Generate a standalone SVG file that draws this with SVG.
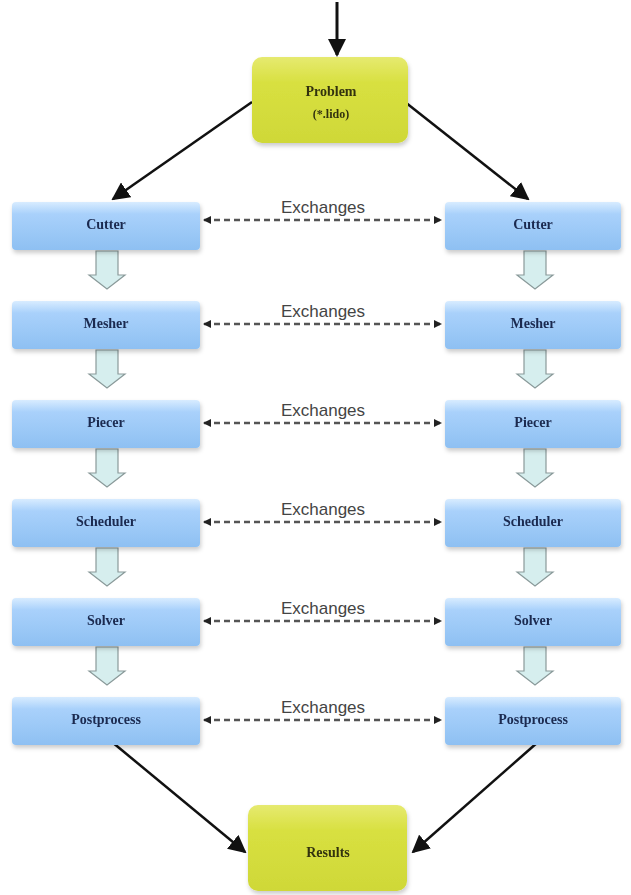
<svg xmlns="http://www.w3.org/2000/svg" width="631" height="895" viewBox="0 0 631 895">
<style>
.box{fill:url(#blue);}
.yel{fill:url(#yellow);}
.lbl{font-family:"Liberation Serif",serif;font-weight:bold;font-size:14px;fill:#1a2a50;text-anchor:middle;}
.ylbl{font-family:"Liberation Serif",serif;font-weight:bold;font-size:14px;fill:#333310;text-anchor:middle;}
.ex{font-family:"Liberation Sans",sans-serif;font-size:17px;fill:#444;text-anchor:middle;}
.dash{stroke:#555;stroke-width:2.5;stroke-dasharray:6,4;fill:none;marker-start:url(#sm);marker-end:url(#sm2);}
.solid{stroke:#111;stroke-width:2.5;fill:none;}
.blk{fill:#d6eeee;stroke:#8a9a9a;stroke-width:1.2;}
</style>
<defs>
<linearGradient id="blue" x1="0" y1="0" x2="0" y2="1">
<stop offset="0" stop-color="#d8ecff"/>
<stop offset="0.25" stop-color="#a9d1fb"/>
<stop offset="1" stop-color="#8ec0f2"/>
</linearGradient>
<linearGradient id="yellow" x1="0" y1="0" x2="0" y2="1">
<stop offset="0" stop-color="#e6ea70"/>
<stop offset="0.3" stop-color="#d8e040"/>
<stop offset="1" stop-color="#cfd838"/>
</linearGradient>
<filter id="sh" x="-10%" y="-10%" width="130%" height="140%">
<feDropShadow dx="1" dy="3" stdDeviation="2" flood-color="#000" flood-opacity="0.2"/>
</filter>
<marker id="bigv" markerWidth="18" markerHeight="18" refX="16" refY="9" orient="auto" markerUnits="userSpaceOnUse" viewBox="0 0 18 18">
<path d="M0,0 L18,9 L0,18 z" fill="#111"/>
</marker>
<marker id="sm" markerWidth="8" markerHeight="8" refX="1" refY="4" orient="auto" markerUnits="userSpaceOnUse" viewBox="0 0 8 8">
<path d="M8,0 L0,4 L8,8 z" fill="#222"/>
</marker>
<marker id="sm2" markerWidth="8" markerHeight="8" refX="7" refY="4" orient="auto" markerUnits="userSpaceOnUse" viewBox="0 0 8 8">
<path d="M0,0 L8,4 L0,8 z" fill="#222"/>
</marker>
<path id="blockarrow" d="M-11,0 H11 V24 H18 L0,38 L-18,24 H-11 Z"/>
</defs>
<rect width="631" height="895" fill="#fff"/>

<g id="connectors">
<line x1="337" y1="2" x2="337" y2="55" stroke="#111" stroke-width="3" marker-end="url(#bigv)"/>
<line class="solid" x1="252" y1="102" x2="113" y2="199" marker-end="url(#bigv)"/>
<line class="solid" x1="405" y1="102" x2="528" y2="199" marker-end="url(#bigv)"/>
<line class="solid" x1="112" y1="742" x2="245" y2="852" marker-end="url(#bigv)"/>
<line class="solid" x1="538" y1="742" x2="413" y2="852" marker-end="url(#bigv)"/>
<g class="blk">
<use href="#blockarrow" x="107" y="251"/>
<use href="#blockarrow" x="107" y="350"/>
<use href="#blockarrow" x="107" y="449"/>
<use href="#blockarrow" x="107" y="548"/>
<use href="#blockarrow" x="107" y="647"/>
<use href="#blockarrow" x="535" y="251"/>
<use href="#blockarrow" x="535" y="350"/>
<use href="#blockarrow" x="535" y="449"/>
<use href="#blockarrow" x="535" y="548"/>
<use href="#blockarrow" x="535" y="647"/>
</g>
<line class="dash" x1="204" y1="220" x2="441" y2="220"/>
<line class="dash" x1="204" y1="324" x2="441" y2="324"/>
<line class="dash" x1="204" y1="423" x2="441" y2="423"/>
<line class="dash" x1="204" y1="522" x2="441" y2="522"/>
<line class="dash" x1="204" y1="621" x2="441" y2="621"/>
<line class="dash" x1="204" y1="720" x2="441" y2="720"/>
<text class="ex" x="323" y="213">Exchanges</text>
<text class="ex" x="323" y="317">Exchanges</text>
<text class="ex" x="323" y="416">Exchanges</text>
<text class="ex" x="323" y="515">Exchanges</text>
<text class="ex" x="323" y="614">Exchanges</text>
<text class="ex" x="323" y="713">Exchanges</text>
</g>

<g id="problem" filter="url(#sh)"><rect class="yel" x="252" y="57" width="156" height="86" rx="10"/><text class="ylbl" x="331" y="96">Problem</text><text class="ylbl" x="331" y="118" style="font-size:12px">(*.lido)</text></g>

<g id="cutter-l" filter="url(#sh)"><rect class="box" x="12" y="202" width="188" height="48" rx="4"/><text class="lbl" x="106" y="229">Cutter</text></g>
<g id="mesher-l" filter="url(#sh)"><rect class="box" x="12" y="301" width="188" height="48" rx="4"/><text class="lbl" x="106" y="328">Mesher</text></g>
<g id="piecer-l" filter="url(#sh)"><rect class="box" x="12" y="400" width="188" height="48" rx="4"/><text class="lbl" x="106" y="427">Piecer</text></g>
<g id="scheduler-l" filter="url(#sh)"><rect class="box" x="12" y="499" width="188" height="48" rx="4"/><text class="lbl" x="106" y="526">Scheduler</text></g>
<g id="solver-l" filter="url(#sh)"><rect class="box" x="12" y="598" width="188" height="48" rx="4"/><text class="lbl" x="106" y="625">Solver</text></g>
<g id="postprocess-l" filter="url(#sh)"><rect class="box" x="12" y="697" width="188" height="48" rx="4"/><text class="lbl" x="106" y="724">Postprocess</text></g>

<g id="cutter-r" filter="url(#sh)"><rect class="box" x="445" y="202" width="176" height="48" rx="4"/><text class="lbl" x="533" y="229">Cutter</text></g>
<g id="mesher-r" filter="url(#sh)"><rect class="box" x="445" y="301" width="176" height="48" rx="4"/><text class="lbl" x="533" y="328">Mesher</text></g>
<g id="piecer-r" filter="url(#sh)"><rect class="box" x="445" y="400" width="176" height="48" rx="4"/><text class="lbl" x="533" y="427">Piecer</text></g>
<g id="scheduler-r" filter="url(#sh)"><rect class="box" x="445" y="499" width="176" height="48" rx="4"/><text class="lbl" x="533" y="526">Scheduler</text></g>
<g id="solver-r" filter="url(#sh)"><rect class="box" x="445" y="598" width="176" height="48" rx="4"/><text class="lbl" x="533" y="625">Solver</text></g>
<g id="postprocess-r" filter="url(#sh)"><rect class="box" x="445" y="697" width="176" height="48" rx="4"/><text class="lbl" x="533" y="724">Postprocess</text></g>

<g id="results" filter="url(#sh)"><rect class="yel" x="248" y="805" width="159" height="86" rx="10"/><text class="ylbl" x="328" y="857">Results</text></g>
</svg>
